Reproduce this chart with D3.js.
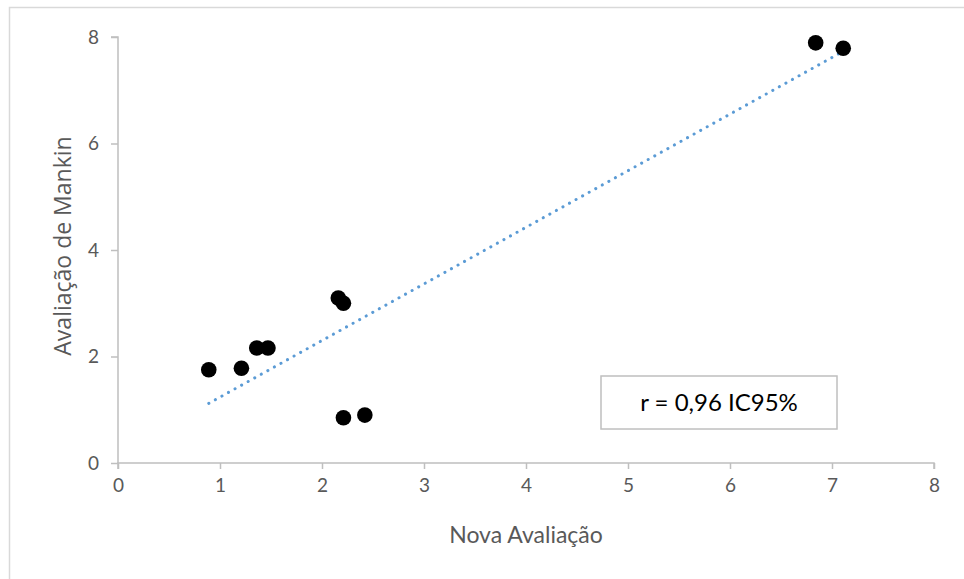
<!DOCTYPE html>
<html><head><meta charset="utf-8">
<script src="https://cdn.jsdelivr.net/npm/d3@7"></script>
<style>body{margin:0;background:#fff}svg{display:block}</style>
</head><body>
<svg id="c" width="964" height="579"></svg>
<script>
const novaAvaliacao = [0.89, 1.21, 1.36, 1.47, 2.16, 2.21, 2.21, 2.42, 6.84, 7.11];
const mankin        = [1.75, 1.78, 2.16, 2.16, 3.10, 3.00, 0.85, 0.90, 7.89, 7.79];
const xTicks = [0, 1, 2, 3, 4, 5, 6, 7, 8];
const yTicks = [0, 2, 4, 6, 8];
const annotation = "r = 0,96 IC95%";
const xTitle = "Nova Avaliação";
const yTitle = "Avaliação de Mankin";

const svg = d3.select("#c");
const font = "Lato, 'Open Sans', sans-serif";
const gray = "#595959";
const axisCol = "#bfbfbf";

// chart border
svg.append("rect").attr("x", 9.5).attr("y", 7.5).attr("width", 970).attr("height", 600)
  .attr("fill", "none").attr("stroke", "#d9d9d9").attr("stroke-width", 1.5);

const x = d3.scaleLinear().domain([0, 8]).range([118, 934]);
const y = d3.scaleLinear().domain([0, 8]).range([463, 37]);

// x axis
const gx = svg.append("g").attr("transform", `translate(0,${y(0)})`)
  .call(d3.axisBottom(x).tickValues(xTicks).tickSize(6).tickPadding(10).tickFormat(d3.format("d")));
gx.select(".domain").attr("stroke", axisCol).attr("stroke-width", 1.5).attr("d", `M${x(0)},6V0H${x(8)}V6`);
gx.selectAll(".tick line").attr("stroke", axisCol).attr("stroke-width", 1.5);
gx.selectAll(".tick text").attr("fill", gray).style("font-family", font).style("font-size", "19px");

// y axis
const gy = svg.append("g").attr("transform", `translate(${x(0)},0)`)
  .call(d3.axisLeft(y).tickValues(yTicks).tickSize(7).tickPadding(12).tickFormat(d3.format("d")));
gy.select(".domain").attr("stroke", axisCol).attr("stroke-width", 1.5).attr("d", `M-7,${y(8)}H0V${y(0)}`);
gy.selectAll(".tick line").attr("stroke", axisCol).attr("stroke-width", 1.5);
gy.selectAll(".tick text").attr("fill", gray).style("font-family", font).style("font-size", "19px");

// trendline (least squares)
const n = novaAvaliacao.length;
const mx = d3.mean(novaAvaliacao), my = d3.mean(mankin);
let sxy = 0, sxx = 0;
for (let i = 0; i < n; i++) { sxy += (novaAvaliacao[i]-mx)*(mankin[i]-my); sxx += (novaAvaliacao[i]-mx)**2; }
const slope = sxy/sxx, icpt = my - slope*mx;
const x0 = d3.min(novaAvaliacao), x1 = d3.max(novaAvaliacao);
svg.append("line")
  .attr("x1", x(x0)).attr("y1", y(icpt + slope*x0))
  .attr("x2", x(x1)).attr("y2", y(icpt + slope*x1))
  .attr("stroke", "#5b9bd5").attr("stroke-width", 3)
  .attr("stroke-linecap", "round").attr("stroke-dasharray", "0.1 7.4");

// points
svg.append("g").selectAll("circle").data(d3.range(n)).join("circle")
  .attr("cx", i => x(novaAvaliacao[i])).attr("cy", i => y(mankin[i]))
  .attr("r", 7.8).attr("fill", "#000");

// annotation box
svg.append("rect").attr("x", 601).attr("y", 376).attr("width", 236).attr("height", 53)
  .attr("fill", "#fff").attr("stroke", "#bfbfbf").attr("stroke-width", 1.5);
svg.append("text").attr("x", 719).attr("y", 411).attr("text-anchor", "middle")
  .attr("fill", "#000").style("font-family", font).style("font-size", "24px").text(annotation);

// titles
svg.append("text").attr("x", 526).attr("y", 543).attr("text-anchor", "middle")
  .attr("fill", gray).style("font-family", font).style("font-size", "23px").text(xTitle);
svg.append("text").attr("transform", `translate(71,246) rotate(-90)`).attr("text-anchor", "middle")
  .attr("fill", gray).style("font-family", "'Open Sans', sans-serif").style("font-size", "23px").text(yTitle);
</script>
</body></html>
